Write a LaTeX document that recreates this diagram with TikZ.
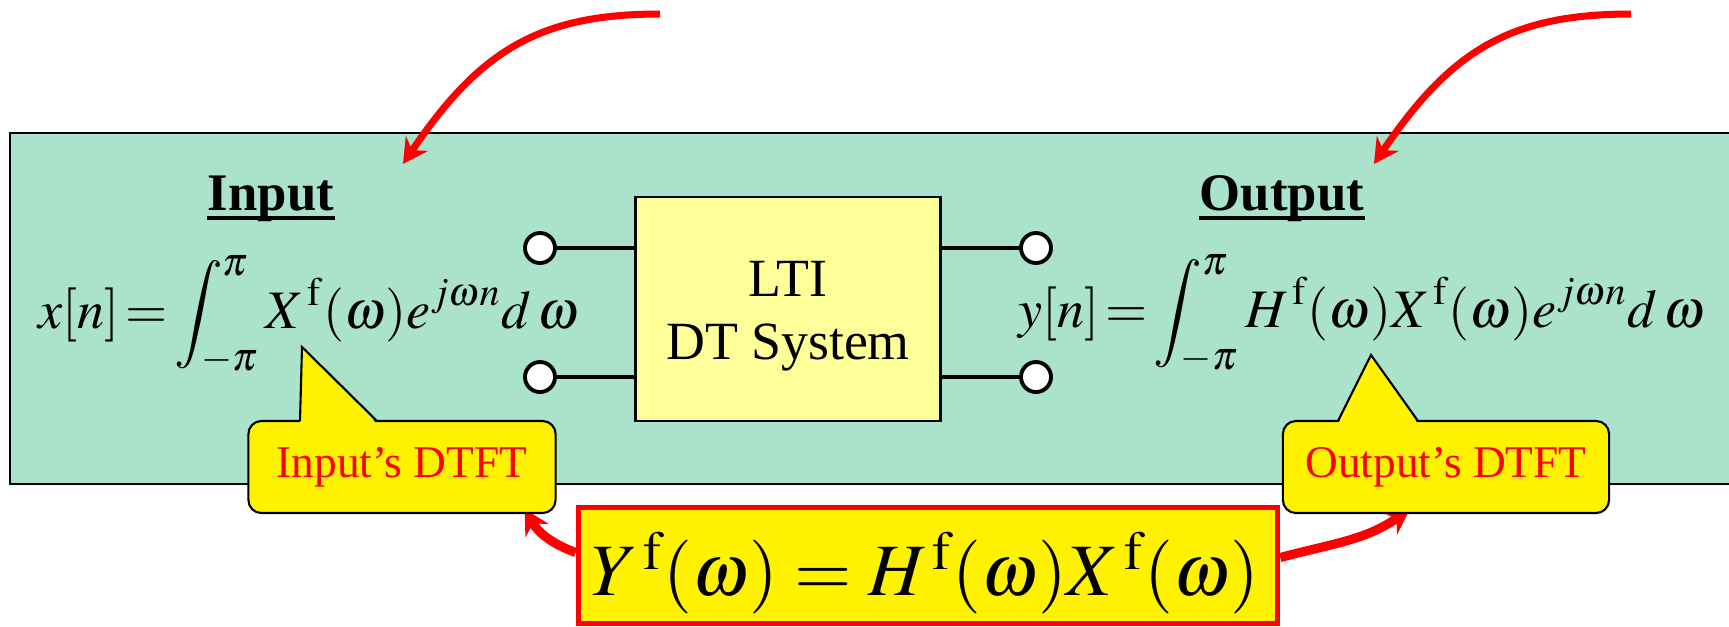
\documentclass[tikz,border=0pt]{standalone}
\usepackage{mathptmx}
\usepackage{fontspec}
\setmainfont{Liberation Serif}
\usetikzlibrary{arrows.meta}
\definecolor{fondo}{RGB}{170,226,204}
\definecolor{ltiamarillo}{RGB}{255,255,153}
\pgfdeclarelayer{fondo}
\pgfdeclarelayer{medio}
\pgfsetlayers{fondo,medio,main}
\begin{document}
\begin{tikzpicture}[x=0.01cm,y=-0.01cm,>={Stealth[length=7pt,width=7.5pt]},
  term/.style={circle,draw,fill=white,line width=1.1pt,minimum size=0.3cm,inner sep=0pt},
  globo/.style={draw,fill=yellow,rounded corners=0.13cm,line width=0.6pt,minimum width=3.07cm,
    minimum height=0.92cm,text=red,font=\fontsize{12.9}{15}\selectfont},
  titulo/.style={anchor=base,inner sep=0pt,font=\fontsize{15}{18}\selectfont\bfseries},
  formula/.style={anchor=base west,inner sep=0pt,font=\fontsize{15.4}{18}\selectfont},
  flecha/.style={red,line width=2pt,->}]
  \useasboundingbox (0,0) rectangle (1729,626);
  % fondo verde
  \begin{pgfonlayer}{fondo}
    \draw[fill=fondo,line width=0.8pt] (10,133) rectangle (1760,484);
  \end{pgfonlayer}
  % titulos
  \node[titulo] (tin) at (271,210) {Input};
  \node[titulo] (tout) at (1282,210) {Output};
  \draw[line width=1.2pt] ([yshift=-0.08cm]tin.base west) -- ([yshift=-0.08cm]tin.base east);
  \draw[line width=1.2pt] ([yshift=-0.08cm]tout.base west) -- ([yshift=-0.08cm]tout.base east);
  % flechas de arriba
  \coordinate (a1) at (660,14);
  \coordinate (b1) at (403,164);
  \coordinate (a2) at (1631,14);
  \coordinate (b2) at (1374,164);
  \draw[flecha] (a1) .. controls (540,14) and (480,50) .. (b1);
  \draw[flecha] (a2) .. controls (1511,14) and (1451,50) .. (b2);
  % formulas
  \node[formula] (fx) at (38,328)
    {$\thickmuskip=2mu x[n]=\displaystyle\int\nolimits_{-\pi}^{\pi}X^{\,\mathrm{f}}(\omega)e^{j\omega n}d\,\omega$};
  \node[formula] (fy) at (1018,327)
    {$\thickmuskip=2mu y[n]=\displaystyle\int\nolimits_{-\pi}^{\pi}H^{\,\mathrm{f}}(\omega)X^{\,\mathrm{f}}(\omega)e^{j\omega n}d\,\omega$};
  % sistema LTI
  \node[draw,fill=ltiamarillo,line width=0.7pt,minimum width=3.05cm,minimum height=2.24cm] (lti) at (788,309) {};
  \node[align=center,font=\fontsize{15.3}{18}\selectfont] (ltitxt) at (788,316) {LTI\\DT System};
  % terminales
  \node[term] (i1) at (540,248) {};
  \node[term] (i2) at (540,377) {};
  \node[term] (o1) at (1036,248) {};
  \node[term] (o2) at (1036,377) {};
  \draw[line width=1pt] (i1) -- (i1 -| lti.west);
  \draw[line width=1pt] (i2) -- (i2 -| lti.west);
  \draw[line width=1pt] (o1) -- (o1 -| lti.east);
  \draw[line width=1pt] (o2) -- (o2 -| lti.east);
  % globos
  \node[globo] (gin) at (402,467) {Input’s DTFT};
  \node[globo,minimum width=3.26cm] (gout) at (1446,467) {Output’s DTFT};
  \fill[yellow] (300,424) -- (302,347) -- (377,424) -- cycle;
  \draw[line width=0.6pt] (300,421) -- (302,347) -- (377,421);
  \fill[yellow] (1338,424) -- (1371,355) -- (1418,424) -- cycle;
  \draw[line width=0.6pt] (1338,421) -- (1371,355) -- (1418,421);
  % ecuacion
  \node[draw=red,fill=yellow,line width=1.5pt,minimum width=6.99cm,minimum height=1.16cm] (caja) at (928,565.5) {};
  \node[font=\fontsize{21}{25}\selectfont] (ec) at (925,573)
    {$Y^{\,\mathrm{f}}(\omega)=H^{\,\mathrm{f}}(\omega)X^{\,\mathrm{f}}(\omega)$};
  % flechas de abajo
  \begin{pgfonlayer}{medio}
    \draw[flecha,line width=2.6pt] ([yshift=0.13cm]caja.west) to[out=160,in=-60] ([xshift=-0.32cm,yshift=0.05cm]gin.south east);
    \draw[flecha,line width=2.6pt] ([yshift=0.08cm]caja.east) to[out=15,in=-145] ([xshift=1.28cm,yshift=0.05cm]gout.south west);
  \end{pgfonlayer}
\end{tikzpicture}
\end{document}
